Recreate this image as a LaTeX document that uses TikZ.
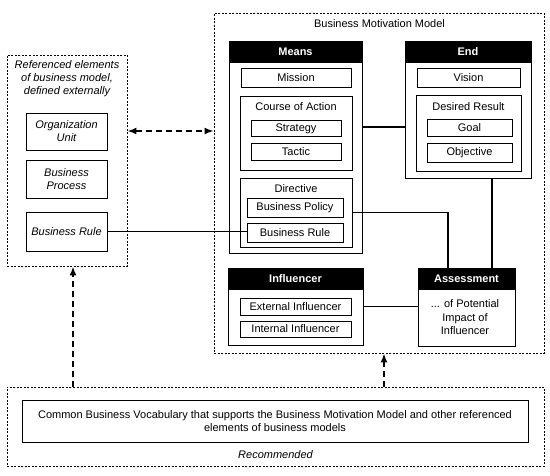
\documentclass[tikz,border=0pt]{standalone}
\usepackage{fontspec}
\setmainfont{Liberation Sans}
\usetikzlibrary{arrows.meta,calc}
\begin{document}
\begin{tikzpicture}[x=1pt,y=-1pt,
  every node/.style={font=\fontsize{11}{13.4}\selectfont},
  box/.style={draw, line width=1pt, inner sep=0pt, align=center},
  dbox/.style={draw, line width=0.9pt, inner sep=0pt, dash pattern=on 2pt off 1.5pt},
  hdr/.style={fill=black, draw=black, line width=1pt, inner sep=0pt, text=white, font=\fontsize{11}{13}\selectfont\bfseries},
  lbl/.style={inner sep=0pt, align=center},
  conn/.style={line width=1.4pt},
  darrow/.style={line width=1.7pt, dash pattern=on 6pt off 4pt, -{Latex[length=9pt,width=7pt]}}
]
\useasboundingbox (0,0) rectangle (550,475);

% Left: referenced elements
\node[dbox, minimum width=120pt, minimum height=211pt] (left) at (67,160.5) {};
\node[lbl, font=\fontsize{11}{13}\selectfont\itshape] (lefttitle) at (67,79) {Referenced elements\\of business model,\\defined externally};
\node[box, minimum width=81pt, minimum height=37pt, font=\fontsize{11}{13}\selectfont\itshape] (org) at (66.5,131.5) {Organization\\Unit};
\node[box, minimum width=81pt, minimum height=38pt, font=\fontsize{11}{13}\selectfont\itshape] (proc) at (66.5,179) {Business\\Process};
\node[box, minimum width=81pt, minimum height=39pt, font=\fontsize{11}{13}\selectfont\itshape] (brl) at (66.5,231.5) {Business Rule};

% BMM
\node[dbox, minimum width=330pt, minimum height=340pt] (bmm) at (379,183) {};
\node[lbl] (bmmtitle) at (379.5,24) {Business Motivation Model};

% Means
\node[box, minimum width=133pt, minimum height=212pt] (means) at (295.5,147) {};
\node[hdr, minimum width=133pt, minimum height=21pt] (meansH) at (295.5,51.5) {Means};
\node[box, minimum width=110pt, minimum height=19pt] (mission) at (296,77.5) {Mission};
\node[box, minimum width=112pt, minimum height=74pt] (coa) at (296,133) {};
\node[lbl] (coaL) at (296,107) {Course of Action};
\node[box, minimum width=90pt, minimum height=16pt] (strategy) at (296,128.5) {Strategy};
\node[box, minimum width=90pt, minimum height=17pt] (tactic) at (296,151.5) {Tactic};
\node[box, minimum width=112pt, minimum height=69pt] (directive) at (296,212.5) {};
\node[lbl] (dirL) at (296,189) {Directive};
\node[box, minimum width=96pt, minimum height=19pt] (policy) at (295,207.5) {Business Policy};
\node[box, minimum width=96pt, minimum height=19pt] (brule) at (295,232.5) {Business Rule};

% End
\node[box, minimum width=126pt, minimum height=137pt] (end) at (468,109.5) {};
\node[hdr, minimum width=126pt, minimum height=21pt] (endH) at (468,51.5) {End};
\node[box, minimum width=103pt, minimum height=19pt] (vision) at (468.5,77.5) {Vision};
\node[box, minimum width=105pt, minimum height=76pt] (dr) at (468.5,133) {};
\node[lbl] (drL) at (468.5,107) {Desired Result};
\node[box, minimum width=85pt, minimum height=17pt] (goal) at (469.5,127.5) {Goal};
\node[box, minimum width=85pt, minimum height=19pt] (objective) at (469.5,152.5) {Objective};

% Influencer
\node[box, minimum width=135pt, minimum height=77pt] (infl) at (295.5,306.5) {};
\node[hdr, minimum width=135pt, minimum height=21pt] (inflH) at (295.5,278.5) {Influencer};
\node[box, minimum width=111pt, minimum height=17pt] (ext) at (295.5,306.5) {External Influencer};
\node[box, minimum width=111pt, minimum height=16pt] (int) at (295.5,329) {Internal Influencer};

% Assessment
\node[box, minimum width=97pt, minimum height=78pt] (assess) at (466.5,307) {};
\node[hdr, minimum width=97pt, minimum height=21pt] (assessH) at (466.5,278.5) {Assessment};
\node[lbl, font=\fontsize{11}{13.5}\selectfont] (assessT) at (465,317.5) {... of Potential\\Impact of\\Influencer};

% Bottom
\node[dbox, minimum width=537pt, minimum height=79pt] (bottom) at (275.5,426.5) {};
\node[box, minimum width=506pt, minimum height=42pt, font=\fontsize{11}{13}\selectfont] (vocab) at (275,421) {Common Business Vocabulary that supports the Business Motivation Model and other referenced\\elements of business models};
\node[lbl, font=\fontsize{11}{13}\selectfont\itshape] (rec) at (275.5,455) {Recommended};

% Connectors
\path ([yshift=20pt]means.east) coordinate (m1);
\draw[conn] (m1) -- (m1 -| end.west);
\draw[conn] (directive.east) -| ([xshift=-18.5pt]assess.north);
\path ([xshift=24pt]end.south) coordinate (e1);
\draw[conn] (e1) -- (e1 |- assess.north);
\draw[conn] (infl.east) -- (infl.east -| assess.west);
\draw[conn] (brl.east) -- (brl.east -| brule.west);

% Dashed arrows
\path ([yshift=29.5pt]left.east) coordinate (a1);
\draw[darrow, {Latex[length=9pt,width=7pt]}-{Latex[length=9pt,width=7pt]}] (a1) -- (a1 -| bmm.west);
\path ([xshift=6pt]left.south) coordinate (a2);
\draw[darrow] (a2 |- bottom.north) -- (a2);
\path ([xshift=5pt]bmm.south) coordinate (a3);
\draw[darrow] (a3 |- bottom.north) -- (a3);
\end{tikzpicture}
\end{document}
